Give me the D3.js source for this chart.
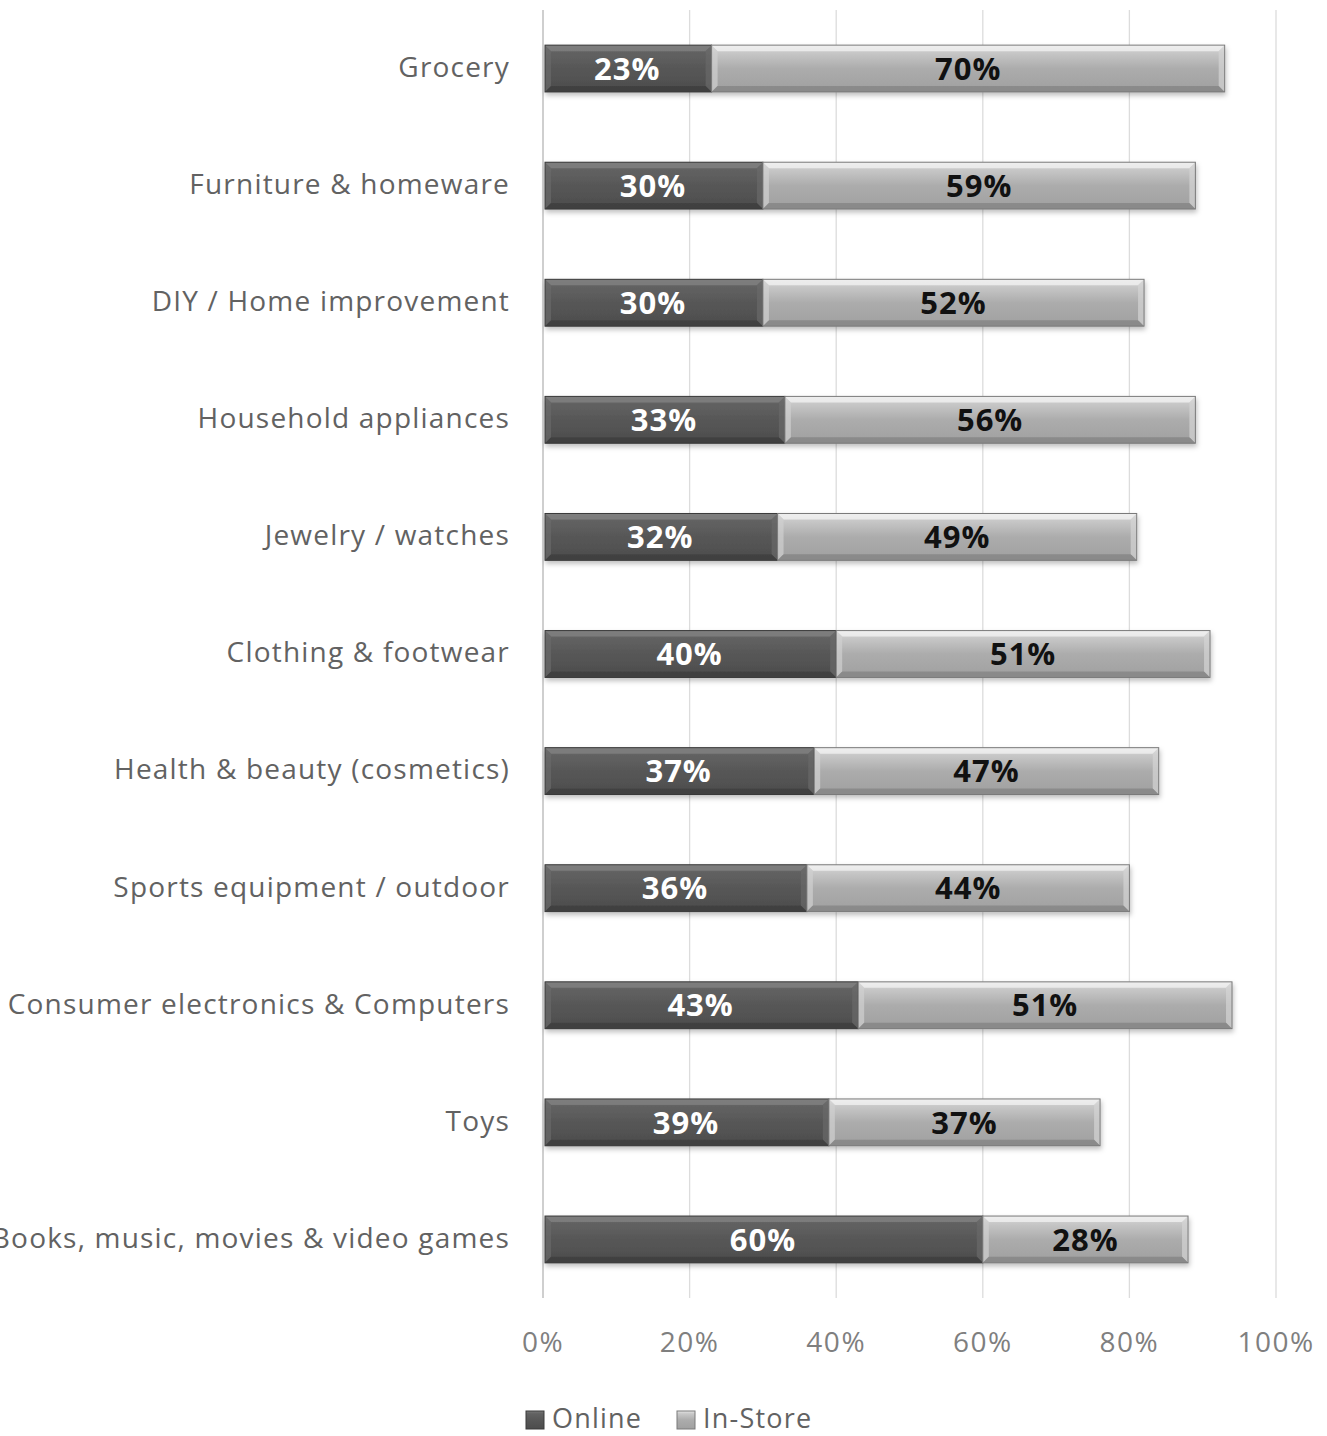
<!DOCTYPE html>
<html>
<head>
<meta charset="utf-8">
<script src="https://cdn.jsdelivr.net/npm/d3@7"></script>
<style>
  body { margin: 0; background: #fff; }
  svg { display: block; }
</style>
</head>
<body>
<div id="chart"></div>
<script>
const categories = [
  "Grocery",
  "Furniture & homeware",
  "DIY / Home improvement",
  "Household appliances",
  "Jewelry / watches",
  "Clothing & footwear",
  "Health & beauty (cosmetics)",
  "Sports equipment / outdoor",
  "Consumer electronics & Computers",
  "Toys",
  "Books, music, movies & video games"
];
const online = [23, 30, 30, 33, 32, 40, 37, 36, 43, 39, 60];
const inStore = [70, 59, 52, 56, 49, 51, 47, 44, 51, 37, 28];
const xTicks = [0, 20, 40, 60, 80, 100];
const seriesNames = ["Online", "In-Store"];

const width = 1327, height = 1436;
const margin = { top: 10, right: 51, bottom: 138, left: 543 };
const font = "'Open Sans', sans-serif";

const svg = d3.select("#chart").append("svg")
    .attr("width", width)
    .attr("height", height);

const defs = svg.append("defs");
function bevelGradient(id, stops) {
  const g = defs.append("linearGradient")
      .attr("id", id)
      .attr("x1", 0).attr("y1", 0).attr("x2", 0).attr("y2", 1);
  stops.forEach(s => g.append("stop").attr("offset", s[0]).attr("stop-color", s[1]));
}
bevelGradient("gOnline", [[0, "#7a7a7a"], [0.15, "#626262"], [0.5, "#575757"], [1, "#4c4c4c"]]);
bevelGradient("gStore", [[0, "#e6e6e6"], [0.15, "#c8c8c8"], [0.5, "#acacac"], [1, "#a0a0a0"]]);
const shadow = defs.append("filter").attr("id", "shadow")
    .attr("x", "-5%").attr("y", "-20%").attr("width", "110%").attr("height", "160%");
shadow.append("feDropShadow").attr("dx", 1).attr("dy", 3).attr("stdDeviation", 2.5)
    .attr("flood-color", "#000").attr("flood-opacity", 0.25);

const x = d3.scaleLinear().domain([0, 100]).range([margin.left, width - margin.right]);
const y = d3.scaleBand().domain(categories).range([margin.top, height - margin.bottom])
    .paddingInner(0.6).paddingOuter(0.3);

// gridlines
svg.append("g").selectAll("line").data(xTicks).join("line")
    .attr("x1", d => x(d)).attr("x2", d => x(d))
    .attr("y1", margin.top).attr("y2", height - margin.bottom)
    .attr("stroke", d => d === 0 ? "#cfcfcf" : "#dcdcdc")
    .attr("stroke-width", d => d === 0 ? 2 : 1.3);

// x tick labels
svg.append("g").selectAll("text").data(xTicks).join("text")
    .attr("x", d => x(d))
    .attr("y", 1352)
    .attr("text-anchor", "middle")
    .attr("font-family", font)
    .attr("font-size", 28)
    .attr("letter-spacing", 1.5)
    .attr("fill", "#7f7f7f")
    .text(d => d + "%");

// category labels
svg.append("g").selectAll("text").data(categories).join("text")
    .attr("x", 510)
    .attr("y", d => y(d) + y.bandwidth() / 2)
    .attr("dy", "0.3em")
    .attr("text-anchor", "end")
    .attr("font-family", font)
    .attr("font-size", 28)
    .attr("letter-spacing", 1.2)
    .attr("fill", "#626262")
    .text(d => d);

const rows = categories.map((c, i) => ({ cat: c, on: online[i], st: inStore[i] }));
const bars = svg.append("g").selectAll("g").data(rows).join("g")
    .attr("filter", "url(#shadow)");

// segment boxes with bevel facets
const b = 6;
const segs = [];
rows.forEach(r => {
  segs.push({ x0: x(0) + 2, x1: x(r.on), y0: y(r.cat), s: 0 });
  segs.push({ x0: x(r.on), x1: x(r.on + r.st), y0: y(r.cat), s: 1 });
});
const h = y.bandwidth();
const fills = [
  { base: "url(#gOnline)", top: "#808080", left: "#6a6a6a", right: "#6a6a6a", bottom: "#3e3e3e", edge: "#3a3a3a" },
  { base: "url(#gStore)", top: "#f0f0f0", left: "#d0d0d0", right: "#d4d4d4", bottom: "#858585", edge: "#7a7a7a" }
];
const segG = svg.append("g").attr("filter", "url(#shadow)")
    .selectAll("g").data(segs).join("g");
segG.append("rect")
    .attr("x", d => d.x0).attr("y", d => d.y0)
    .attr("width", d => d.x1 - d.x0).attr("height", h)
    .attr("fill", d => fills[d.s].base);
const facet = (pts) => "M" + pts.map(p => p.join(",")).join("L") + "Z";
segG.append("path")
    .attr("d", d => facet([[d.x0, d.y0], [d.x1, d.y0], [d.x1 - b, d.y0 + b], [d.x0 + b, d.y0 + b]]))
    .attr("fill", d => fills[d.s].top).attr("opacity", 0.8);
segG.append("path")
    .attr("d", d => facet([[d.x0, d.y0], [d.x0 + b, d.y0 + b], [d.x0 + b, d.y0 + h - b], [d.x0, d.y0 + h]]))
    .attr("fill", d => fills[d.s].left).attr("opacity", 0.7);
segG.append("path")
    .attr("d", d => facet([[d.x1, d.y0], [d.x1, d.y0 + h], [d.x1 - b, d.y0 + h - b], [d.x1 - b, d.y0 + b]]))
    .attr("fill", d => fills[d.s].right).attr("opacity", 0.7);
segG.append("path")
    .attr("d", d => facet([[d.x0, d.y0 + h], [d.x0 + b, d.y0 + h - b], [d.x1 - b, d.y0 + h - b], [d.x1, d.y0 + h]]))
    .attr("fill", d => fills[d.s].bottom).attr("opacity", 0.8);
segG.append("rect")
    .attr("x", d => d.x0).attr("y", d => d.y0)
    .attr("width", d => d.x1 - d.x0).attr("height", h)
    .attr("fill", "none")
    .attr("stroke", d => fills[d.s].edge)
    .attr("stroke-width", 1);

// value labels
svg.append("g").selectAll("text").data(rows).join("text")
    .attr("x", d => (x(0) + x(d.on)) / 2)
    .attr("y", d => y(d.cat) + h / 2)
    .attr("dy", "0.36em")
    .attr("text-anchor", "middle")
    .attr("font-family", font)
    .attr("font-weight", "bold")
    .attr("font-size", 31)
    .attr("letter-spacing", 1)
    .attr("fill", "#fff")
    .text(d => d.on + "%");
svg.append("g").selectAll("text").data(rows).join("text")
    .attr("x", d => (x(d.on) + x(d.on + d.st)) / 2)
    .attr("y", d => y(d.cat) + h / 2)
    .attr("dy", "0.36em")
    .attr("text-anchor", "middle")
    .attr("font-family", font)
    .attr("font-weight", "bold")
    .attr("font-size", 31)
    .attr("letter-spacing", 1)
    .attr("fill", "#111")
    .text(d => d.st + "%");

// legend
const legendX = [526, 677];
const lg = svg.append("g").selectAll("g").data(seriesNames).join("g")
    .attr("transform", (d, i) => `translate(${legendX[i]},1419)`);
lg.append("rect")
    .attr("x", 0).attr("y", -8).attr("width", 18).attr("height", 18)
    .attr("fill", (d, i) => i === 0 ? "url(#gOnline)" : "url(#gStore)")
    .attr("stroke", (d, i) => i === 0 ? "#3a3a3a" : "#7a7a7a");
lg.append("text")
    .attr("x", 26).attr("y", 0).attr("dy", "0.34em")
    .attr("font-family", font)
    .attr("font-size", 27)
    .attr("letter-spacing", 1.2)
    .attr("fill", "#626262")
    .text(d => d);
</script>
</body>
</html>
